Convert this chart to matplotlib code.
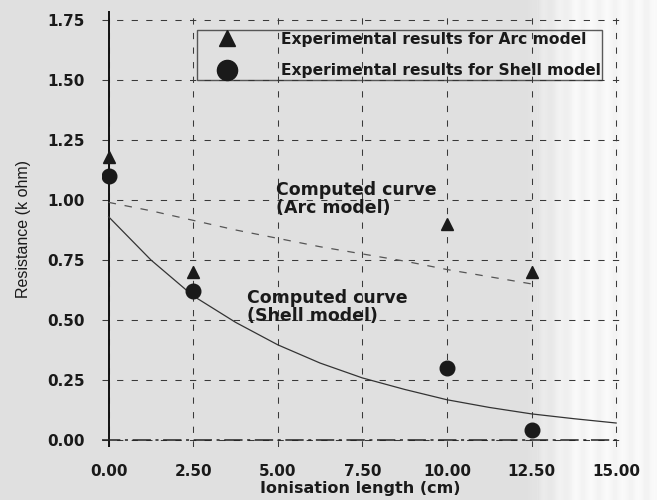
import numpy as np
import matplotlib.pyplot as plt
from matplotlib.lines import Line2D

# measured points (ionisation length in cm, resistance in k ohm)
x_exp = [0.0, 2.5, 10.0, 12.5]
arc_exp = [1.18, 0.70, 0.90, 0.70]
shell_exp = [1.10, 0.62, 0.30, 0.04]

# computed curves
x_arc = [0.0, 1.25, 2.5, 3.75, 5.0, 6.25, 7.5, 8.75, 10.0, 11.25, 12.5]
arc_calc = [0.99, 0.955, 0.915, 0.875, 0.84, 0.805, 0.775, 0.745, 0.71, 0.68, 0.65]
x_shell = [0.0, 1.25, 2.5, 3.75, 5.0, 6.25, 7.5, 8.75, 10.0, 11.25, 12.5, 13.75, 15.0]
shell_calc = [0.93, 0.75, 0.60, 0.49, 0.396, 0.32, 0.258, 0.21, 0.167, 0.135, 0.108, 0.088, 0.07]

xticks = [0.0, 2.5, 5.0, 7.5, 10.0, 12.5, 15.0]
yticks = [0.0, 0.25, 0.5, 0.75, 1.0, 1.25, 1.5, 1.75]

legend_labels = ['Experimental results for Arc model',
                 'Experimental results for Shell model']

plt.rcParams['font.family'] = ['DejaVu Sans']
ink = '#1a1a1a'

fig = plt.figure(figsize=(6.57, 5.0), dpi=100)

# scanned-page background, paler towards the right edge
bg = fig.add_axes([0, 0, 1, 1], zorder=-10)
u = np.linspace(0, 1, 657)
shade = np.full_like(u, 0.875)
shade = np.where(u > 0.80, 0.875 + (u - 0.80) / 0.08 * 0.09, shade)
shade = np.clip(shade, 0, 0.965)
shade = shade + 0.012 * np.sin(u * 260) * (u > 0.82)
bg.imshow(np.tile(shade, (10, 1)), cmap='gray', vmin=0, vmax=1, aspect='auto',
          extent=[0, 1, 0, 1])
bg.set_axis_off()

ax = fig.add_axes([0.155, 0.106, 0.788, 0.873])
ax.patch.set_alpha(0)
ax.set_xlim(-0.2, 15.1)
ax.set_ylim(-0.03, 1.79)

ax.set_xticks(xticks)
ax.set_yticks(yticks)
ax.set_xticklabels(['%.2f' % v for v in xticks])
ax.set_yticklabels(['%.2f' % v for v in yticks])
ax.tick_params(length=0, labelsize=11, colors=ink, pad=12)
for lab in ax.get_xticklabels() + ax.get_yticklabels():
    lab.set_fontweight('bold')

ax.grid(True, color='#3a3a3a', linestyle=(0, (6, 8)), linewidth=0.75)
for s in ax.spines.values():
    s.set_visible(False)

# axis lines at zero
ax.axvline(0, color='#111111', linewidth=1.4, zorder=2)
ax.axhline(0, color='#222222', linewidth=1.1, linestyle=(0, (12, 3, 2, 3)), zorder=2)

ax.plot(x_shell, shell_calc, color='#333333', linewidth=0.9, zorder=3)
ax.plot(x_arc, arc_calc, color='#555555', linewidth=0.9, linestyle=(0, (6, 7)), zorder=3)

ax.plot(x_exp, arc_exp, linestyle='none', marker='^', markersize=8,
        color=ink, zorder=4)
ax.plot(x_exp, shell_exp, linestyle='none', marker='o', markersize=10.5,
        color=ink, zorder=4)

ax.text(4.96, 1.004, 'Computed curve\n(Arc model)', fontsize=12.5, fontweight='bold',
        color=ink, ha='left', va='center', linespacing=1.0)
ax.text(4.10, 0.554, 'Computed curve\n(Shell model)', fontsize=12.5, fontweight='bold',
        color=ink, ha='left', va='center', linespacing=1.0)

handles = [
    Line2D([], [], linestyle='none', marker='^', markersize=12, color=ink),
    Line2D([], [], linestyle='none', marker='o', markersize=14.5, color=ink),
]
leg = ax.legend(handles, legend_labels,
                loc='upper left', bbox_to_anchor=(0.183, 0.955),
                borderaxespad=0, frameon=True, fancybox=False,
                facecolor='none', edgecolor='#333333',
                prop={'size': 11.2, 'weight': 'bold'},
                handlelength=3.7, handletextpad=1.6, labelspacing=1.05,
                borderpad=0.1)
leg.get_frame().set_linewidth(1.0)
for t in leg.get_texts():
    t.set_color(ink)

ax.set_xlabel('Ionisation length (cm)', fontsize=11.5, fontweight='bold',
              color=ink, labelpad=2)
ax.set_ylabel('Resistance (k ohm)', fontsize=11.5, color=ink, labelpad=12,
              family=['Liberation Sans', 'DejaVu Sans'])

fig.savefig('out.png', dpi=100)
